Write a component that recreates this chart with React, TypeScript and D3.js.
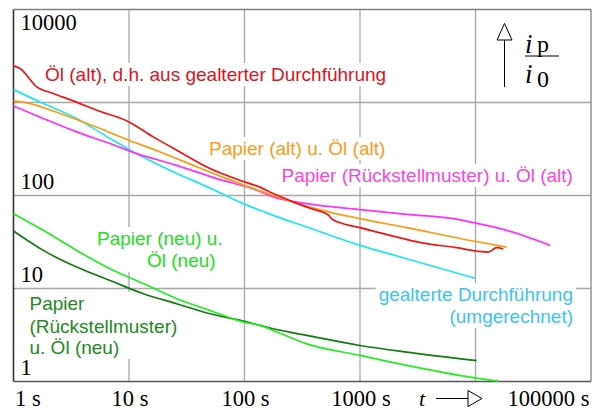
import React, { useEffect, useRef } from 'react';
import * as d3 from 'd3';

// ---- data (t in s, ip/i0) ----
const T_RED = [1, 1.14, 1.59, 2.21, 3.29, 5.25, 10, 16.2, 25.9, 50.3, 100, 136, 177, 260, 369, 528, 584, 1000, 1818, 3531, 6873, 10230, 12900, 15260, 17400];
const V_RED = [2477, 2323, 1472, 1250, 1040, 826, 618, 427, 307, 195, 140, 123, 105, 86, 72.8, 62, 54.8, 45.1, 37.3, 30.8, 27.5, 25.3, 24.6, 27.5, 26.6];

const T_ORANGE = [1, 1.3, 2.53, 5.61, 10, 18.6, 36, 70.1, 136, 177, 346, 1000, 2536, 9570, 18620];
const V_ORANGE = [1040, 990, 762, 525, 393, 294, 211, 152, 112, 100, 76.5, 56.4, 45.1, 32.4, 27.9];

const T_MAGENTA = [1, 1.81, 3.52, 6.85, 11.66, 25.9, 57.4, 127.5, 177, 346, 1000, 2536, 6427, 9570, 18620, 44200];
const V_MAGENTA = [918, 673, 483, 362, 282, 211, 152, 114, 96.4, 81.8, 70.5, 62.8, 56.4, 51.1, 42.2, 29.1];

const T_CYAN = [1, 1.81, 3.52, 6.85, 11.66, 22.6, 50.3, 97.6, 136, 177, 346, 1000, 2536, 9900];
const V_CYAN = [1380, 975, 673, 410, 282, 187, 120, 81.8, 69.3, 61.2, 45.8, 29.1, 20.9, 12.9];

const T_LGREEN = [1, 1.81, 3.52, 6.85, 13.3, 25.9, 50.3, 97.6, 136, 177, 346, 1000, 2536, 9570, 15740];
const V_LGREEN = [63.8, 42.2, 25.7, 16.3, 11.3, 7.77, 5.81, 4.35, 4.01, 3.54, 2.54, 1.91, 1.49, 1.1, 1.01];

const T_DGREEN = [1, 1.81, 3.52, 6.85, 13.3, 25.9, 50.3, 97.6, 177, 346, 1000, 2536, 10230];
const V_DGREEN = [41.5, 25.7, 17.0, 12.2, 8.79, 6.86, 5.35, 4.46, 3.69, 3.13, 2.44, 2.07, 1.68];

const X_GRID = [10, 100, 1000, 10000];
const Y_GRID = [10, 100, 1000];
const X_TICKS = [1, 10, 100, 1000, 100000];
const X_TICK_LABELS = ['1 s', '10 s', '100 s', '1000 s', '100000 s'];
const Y_TICKS = [10000, 100, 10, 1];
const Y_TICK_LABELS = ['10000', '100', '10', '1'];

const SERIES = [
  { t: T_DGREEN, v: V_DGREEN, color: '#127a12' },
  { t: T_LGREEN, v: V_LGREEN, color: '#22ee22' },
  { t: T_CYAN, v: V_CYAN, color: '#1ee8f0' },
  { t: T_MAGENTA, v: V_MAGENTA, color: '#ff30ff' },
  { t: T_ORANGE, v: V_ORANGE, color: '#ff9a10' },
  { t: T_RED, v: V_RED, color: '#f41414' },
];

const LABELS = [
  { lines: ['Öl (alt), d.h. aus gealterter Durchführung'], color: '#dc1420' },
  { lines: ['Papier (alt) u. Öl (alt)'], color: '#ff9a1a' },
  { lines: ['Papier (Rückstellmuster) u. Öl (alt)'], color: '#f848e0' },
  { lines: ['Papier (neu) u.', 'Öl (neu)'], color: '#22dd22' },
  { lines: ['Papier', '(Rückstellmuster)', 'u. Öl (neu)'], color: '#228a22' },
  { lines: ['gealterte Durchführung', '(umgerechnet)'], color: '#3cc4f4' },
];
// layout of the label lines: [x, baseline, anchor]
const LABEL_POS: [number, number, string][][] = [
  [[45, 81, 'start']],
  [[209, 155, 'start']],
  [[281.5, 182, 'start']],
  [[97, 245, 'start'], [147, 267, 'start']],
  [[29.5, 310, 'start'], [29.5, 333, 'start'], [29.5, 354, 'start']],
  [[573, 301, 'end'], [573, 323, 'end']],
];

export default function App() {
  const ref = useRef<SVGSVGElement>(null);
  useEffect(() => {
    const svg = d3.select(ref.current);
    svg.selectAll('*').remove();
    const L = 13.5, R = 591, T = 9.5, B = 381.5;
    const x = d3.scaleLog().domain([1, 1e5]).range([L, R]);
    const y = d3.scaleLog().domain([1, 1e4]).range([B, T]);

    svg.append('rect').attr('width', 598).attr('height', 410).attr('fill', '#fff');

    const g = svg.append('g');
    X_GRID.forEach((d) => {
      g.append('line').attr('x1', x(d)).attr('x2', x(d)).attr('y1', T).attr('y2', B)
        .attr('stroke', '#a8a8a8').attr('stroke-width', 1.3);
    });
    Y_GRID.forEach((d) => {
      g.append('line').attr('x1', L).attr('x2', R).attr('y1', y(d)).attr('y2', y(d))
        .attr('stroke', '#a8a8a8').attr('stroke-width', 1.3);
    });

    // labels with white backing
    const lg = svg.append('g');
    LABELS.forEach((lab, i) => {
      const grp = lg.append('g');
      const bg = grp.append('rect').attr('fill', '#fff');
      const texts = lab.lines.map((s, j) => {
        const [px, py, anc] = LABEL_POS[i][j];
        return grp.append('text').attr('x', px).attr('y', py).attr('text-anchor', anc)
          .attr('font-family', '"Liberation Sans", Arial, sans-serif').attr('font-size', 19)
          .attr('fill', lab.color).text(s);
      });
      let x0 = Infinity, y0 = Infinity, x1 = -Infinity, y1 = -Infinity;
      texts.forEach((t) => {
        const b = (t.node() as SVGTextElement).getBBox();
        x0 = Math.min(x0, b.x); y0 = Math.min(y0, b.y);
        x1 = Math.max(x1, b.x + b.width); y1 = Math.max(y1, b.y + b.height);
      });
      bg.attr('x', x0 - 3).attr('y', y0 - 1).attr('width', x1 - x0 + 6).attr('height', y1 - y0 + 2);
    });

    // frame
    svg.append('line').attr('x1', L).attr('x2', R).attr('y1', T).attr('y2', T).attr('stroke', '#808080').attr('stroke-width', 1.3);
    svg.append('line').attr('x1', R).attr('x2', R).attr('y1', T).attr('y2', B).attr('stroke', '#808080').attr('stroke-width', 1.3);
    svg.append('line').attr('x1', L).attr('x2', L).attr('y1', T).attr('y2', B).attr('stroke', '#333').attr('stroke-width', 1.6);
    svg.append('line').attr('x1', L).attr('x2', R).attr('y1', B).attr('y2', B).attr('stroke', '#555').attr('stroke-width', 1.6);

    // curves
    const line = d3.line<[number, number]>().x((d) => x(d[0])).y((d) => y(d[1])).curve(d3.curveMonotoneX);
    SERIES.forEach((s) => {
      const pts: [number, number][] = s.t.map((t, i) => [t, s.v[i]]);
      svg.append('path').attr('d', line(pts)).attr('fill', 'none').attr('stroke', s.color)
        .attr('stroke-width', 1.7).attr('stroke-linejoin', 'round');
    });

    // tick labels
    const serif = '"Liberation Serif", "Times New Roman", serif';
    X_TICKS.forEach((d, i) => {
      const anchor = i === 0 ? 'start' : i === X_TICKS.length - 1 ? 'end' : 'middle';
      const px = i === 0 ? L + 1.5 : i === X_TICKS.length - 1 ? R - 1.5 : x(d) + 1;
      svg.append('text').attr('x', px).attr('y', 406).attr('text-anchor', anchor)
        .attr('font-family', serif).attr('font-size', 22.5).attr('fill', '#000').text(X_TICK_LABELS[i]);
    });
    Y_TICKS.forEach((d, i) => {
      svg.append('text').attr('x', 20.5).attr('y', y(d) + (i === 0 ? 20.5 : -6.5))
        .attr('font-family', serif).attr('font-size', 22.5).attr('fill', '#000').text(Y_TICK_LABELS[i]);
    });

    // x axis symbol
    svg.append('text').attr('x', 419).attr('y', 406).attr('font-family', serif).attr('font-style', 'italic')
      .attr('font-size', 22).text('t');
    svg.append('line').attr('x1', 436).attr('x2', 468).attr('y1', 398.5).attr('y2', 398.5).attr('stroke', '#000').attr('stroke-width', 1);
    svg.append('path').attr('d', 'M468,390.5 L482,398.5 L468,406.5 Z').attr('fill', '#fff').attr('stroke', '#000').attr('stroke-width', 1);

    // y axis symbol
    svg.append('line').attr('x1', 504.5).attr('x2', 504.5).attr('y1', 40).attr('y2', 87).attr('stroke', '#000').attr('stroke-width', 1);
    svg.append('path').attr('d', 'M504.5,23.5 L512,40 L497,40 Z').attr('fill', '#fff').attr('stroke', '#000').attr('stroke-width', 1);
    svg.append('text').attr('x', 525).attr('y', 53).attr('font-family', serif).attr('font-style', 'italic').attr('font-size', 27).text('i');
    svg.append('text').attr('x', 537).attr('y', 52).attr('font-family', serif).attr('font-size', 24).text('p');
    svg.append('line').attr('x1', 525).attr('x2', 559).attr('y1', 56).attr('y2', 56).attr('stroke', '#000').attr('stroke-width', 1);
    svg.append('text').attr('x', 525).attr('y', 83).attr('font-family', serif).attr('font-style', 'italic').attr('font-size', 27).text('i');
    svg.append('text').attr('x', 537).attr('y', 87).attr('font-family', serif).attr('font-size', 24).text('0');
  }, []);
  return <svg ref={ref} width={598} height={410} style={{ position: 'absolute', left: 0, top: 0 }} />;
}
